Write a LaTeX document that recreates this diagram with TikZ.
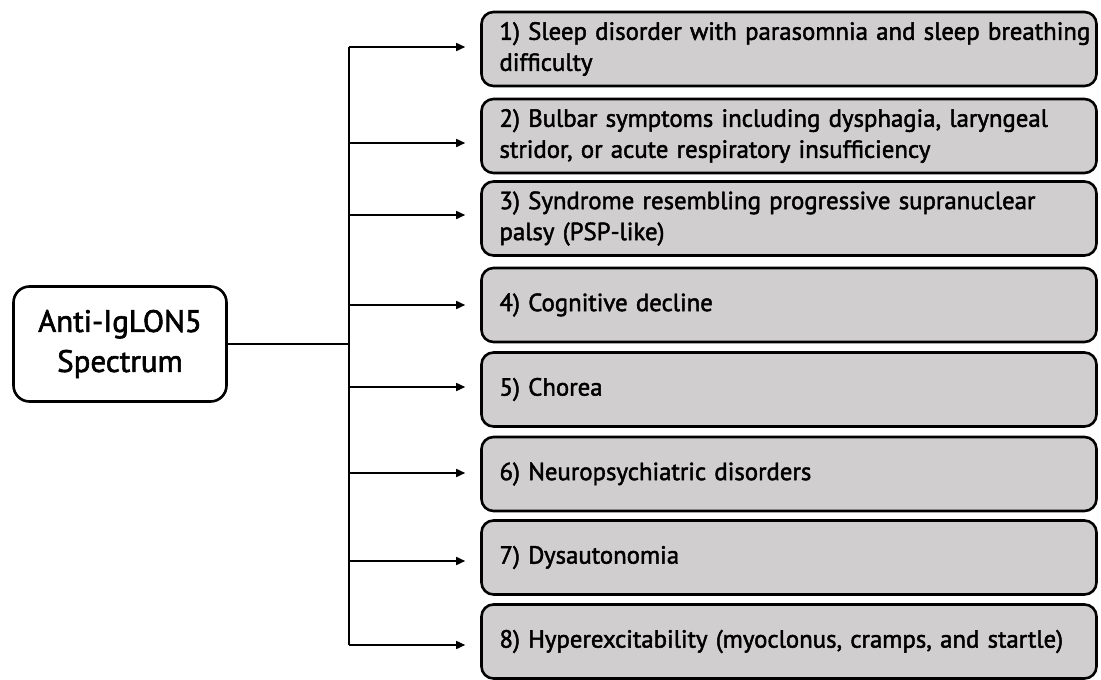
\documentclass[tikz,border=0pt]{standalone}
\usepackage{fontspec}
\setmainfont{PT Sans}
\newfontfamily\medfont[FakeBold=1.9]{PT Sans}
\usetikzlibrary{arrows.meta}
\definecolor{boxgray}{RGB}{208,206,206}
\begin{document}
\begin{tikzpicture}[x=1pt,y=-1pt,
 item/.style={draw=black, fill=boxgray, line width=2.6pt, rounded corners=12pt,
   minimum height=74pt, text width=579pt, align=left, inner xsep=18pt, inner ysep=0pt,
   font=\medfont\fontsize{24.8}{31}\selectfont, anchor=center},
 mainbox/.style={draw=black, fill=white, line width=2.6pt, rounded corners=16pt,
   minimum width=213pt, minimum height=115pt, align=center,
   font=\medfont\fontsize{31}{40}\selectfont},
 link/.style={line width=1.6pt},
 arr/.style={link, -{Triangle[length=9pt,width=8pt]}, shorten >=15pt}]
\useasboundingbox (0,0) rectangle (1101,680);

\node[mainbox] (main) at (120,344) {Anti-IgLON5\\Spectrum};

\node[item] (b1) at (789,49) {\mbox{1) Sleep disorder with parasomnia and sleep breathing}\\difficulty};
\node[item] (b2) at (789,136) {\mbox{2) Bulbar symptoms including dysphagia, laryngeal}\\stridor, or acute respiratory insufficiency};
\node[item] (b3) at (789,218.5) {\mbox{3) Syndrome resembling progressive supranuclear}\\palsy (PSP-like)};
\node[item] (b4) at (789,305) {4) Cognitive decline};
\node[item] (b5) at (789,389.5) {5) Chorea};
\node[item] (b6) at (789,474) {6) Neuropsychiatric disorders};
\node[item] (b7) at (789,557.5) {7) Dysautonomia};
\node[item] (b8) at (789,641.5) {\mbox{8) Hyperexcitability (myoclonus, cramps, and startle)}};

\coordinate (s1) at (349,47);
\coordinate (s2) at (349,143);
\coordinate (s3) at (349,215);
\coordinate (s4) at (349,305);
\coordinate (s5) at (349,387);
\coordinate (s6) at (349,473);
\coordinate (s7) at (349,561);
\coordinate (s8) at (349,645);
\coordinate (j) at (349,344);

\draw[link] (main.east) -- (j);
\draw[link] (s1) -- (s8);
\foreach \i in {1,...,8}{
  \draw[arr] (s\i) -- (s\i -| b\i.west);
}
\end{tikzpicture}
\end{document}
